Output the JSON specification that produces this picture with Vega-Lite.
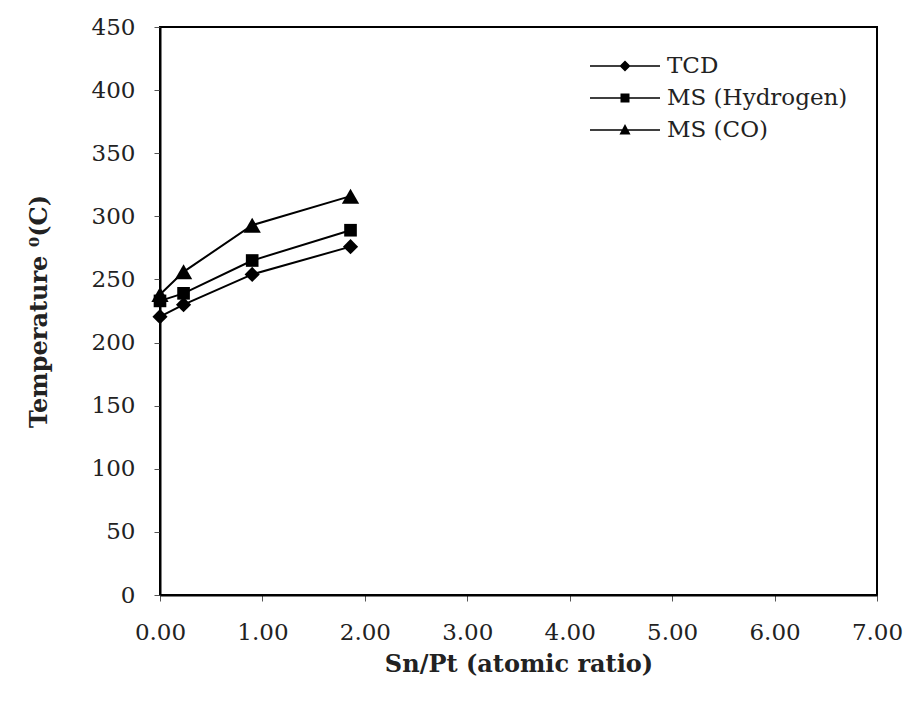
{
  "$schema": "https://vega.github.io/schema/vega-lite/v6.json",
  "width": 717,
  "height": 568,
  "autosize": {"type": "none"},
  "padding": {"left": 160, "top": 27, "right": 32, "bottom": 106},
  "background": "white",
  "config": {
    "font": "DejaVu Serif",
    "view": {"stroke": "black", "strokeWidth": 2},
    "axis": {
      "grid": false,
      "domainColor": "black",
      "domainWidth": 2,
      "tickColor": "#555555",
      "tickWidth": 1,
      "tickSize": 6,
      "labelFont": "DejaVu Serif",
      "labelFontSize": 23,
      "labelColor": "#222222",
      "titleFont": "DejaVu Serif",
      "titleFontSize": 24,
      "titleFontWeight": "bold",
      "titleColor": "#222222"
    }
  },
  "data": {
    "values": [
      {"series": "TCD", "ratio": 0, "temp": 220.5},
      {"series": "TCD", "ratio": 0.23, "temp": 230},
      {"series": "TCD", "ratio": 0.9, "temp": 254},
      {"series": "TCD", "ratio": 1.86, "temp": 276},
      {"series": "MS (Hydrogen)", "ratio": 0, "temp": 233},
      {"series": "MS (Hydrogen)", "ratio": 0.23, "temp": 239},
      {"series": "MS (Hydrogen)", "ratio": 0.9, "temp": 265},
      {"series": "MS (Hydrogen)", "ratio": 1.86, "temp": 289},
      {"series": "MS (CO)", "ratio": 0, "temp": 238},
      {"series": "MS (CO)", "ratio": 0.23, "temp": 256},
      {"series": "MS (CO)", "ratio": 0.9, "temp": 293},
      {"series": "MS (CO)", "ratio": 1.86, "temp": 316}
    ]
  },
  "encoding": {
    "x": {
      "field": "ratio",
      "type": "quantitative",
      "scale": {"domain": [0, 7], "nice": false, "zero": false},
      "axis": {
        "title": "Sn/Pt (atomic ratio)",
        "values": [0, 1, 2, 3, 4, 5, 6, 7],
        "format": ".2f",
        "labelPadding": 20,
        "titlePadding": 8,
        "labelFlush": false
      }
    },
    "y": {
      "field": "temp",
      "type": "quantitative",
      "scale": {"domain": [0, 450], "nice": false},
      "axis": {
        "title": "Temperature ⁰(C)",
        "values": [0, 50, 100, 150, 200, 250, 300, 350, 400, 450],
        "labelPadding": 19,
        "titlePadding": 40
      }
    }
  },
  "layer": [
    {
      "mark": {"type": "line", "color": "black", "strokeWidth": 2},
      "encoding": {"detail": {"field": "series", "type": "nominal"}}
    },
    {
      "transform": [{"filter": "datum.series == 'TCD'"}],
      "mark": {"type": "point", "shape": "diamond", "size": 230, "filled": true, "color": "black", "opacity": 1}
    },
    {
      "transform": [{"filter": "datum.series == 'MS (Hydrogen)'"}],
      "mark": {"type": "point", "shape": "square", "size": 160, "filled": true, "color": "black", "opacity": 1}
    },
    {
      "transform": [{"filter": "datum.series == 'MS (CO)'"}],
      "mark": {"type": "point", "shape": "triangle-up", "size": 300, "filled": true, "color": "black", "opacity": 1}
    },
    {
      "transform": [{"filter": "datum.temp < 0"}],
      "mark": {"type": "point", "filled": true, "color": "black", "opacity": 1},
      "encoding": {
        "shape": {
          "field": "series",
          "type": "nominal",
          "scale": {
            "domain": ["TCD", "MS (Hydrogen)", "MS (CO)"],
            "range": [
              "M-2.92,-0.07L2.92,-0.07L2.92,0.07L-2.92,0.07ZM0,-0.46L0.46,0L0,0.46L-0.46,0Z",
              "M-2.92,-0.07L2.92,-0.07L2.92,0.07L-2.92,0.07ZM-0.375,-0.375L0.375,-0.375L0.375,0.375L-0.375,0.375Z",
              "M-2.92,-0.07L2.92,-0.07L2.92,0.07L-2.92,0.07ZM0,-0.5L0.46,0.38L-0.46,0.38Z"
            ]
          },
          "legend": {
            "title": null,
            "orient": "none",
            "legendX": 453,
            "legendY": 27,
            "padding": 0,
            "symbolSize": 576,
            "symbolFillColor": "black",
            "symbolStrokeColor": "black",
            "symbolStrokeWidth": 0,
            "symbolOpacity": 1,
            "labelFont": "DejaVu Serif",
            "labelFontSize": 23,
            "labelColor": "#222222",
            "labelOffset": 30,
            "rowPadding": 8,
            "labelLimit": 400
          }
        }
      }
    }
  ]
}
